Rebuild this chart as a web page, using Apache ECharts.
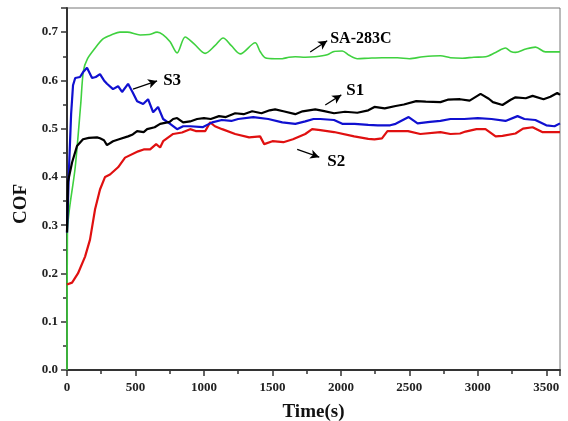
<!DOCTYPE html>
<html>
<head>
<meta charset="utf-8">
<script src="https://cdn.jsdelivr.net/npm/echarts@6/dist/echarts.min.js"></script>
<style>
  html, body { margin: 0; padding: 0; background: #fff; }
  #main { width: 568px; height: 421px; }
</style>
</head>
<body>
<div id="main"></div>
<script>
// time (s) and COF
const s1Time = [0, 7, 37, 73, 117, 160, 219, 241, 270, 292, 336, 380, 446, 480, 512, 560, 585, 640, 680, 750, 775, 804, 848, 899, 950, 1000, 1050, 1110, 1160, 1228, 1290, 1352, 1420, 1480, 1520, 1580, 1667, 1720, 1813, 1870, 1950, 2030, 2120, 2200, 2245, 2320, 2400, 2460, 2550, 2620, 2727, 2780, 2870, 2940, 3020, 3080, 3110, 3180, 3240, 3275, 3350, 3400, 3480, 3530, 3580, 3600];
const s1Cof = [0.285, 0.39, 0.43, 0.464, 0.478, 0.481, 0.482, 0.48, 0.476, 0.466, 0.474, 0.478, 0.484, 0.488, 0.495, 0.493, 0.499, 0.503, 0.51, 0.514, 0.52, 0.522, 0.513, 0.515, 0.52, 0.522, 0.52, 0.526, 0.524, 0.532, 0.53, 0.536, 0.532, 0.538, 0.54, 0.536, 0.53, 0.536, 0.54, 0.537, 0.532, 0.535, 0.533, 0.538, 0.545, 0.542, 0.547, 0.55, 0.557, 0.556, 0.555, 0.56, 0.561, 0.558, 0.572, 0.562, 0.555, 0.549, 0.56, 0.565, 0.563, 0.568, 0.561, 0.566, 0.574, 0.57];

const s2Time = [0, 37, 80, 132, 168, 205, 241, 278, 314, 373, 424, 520, 560, 607, 651, 680, 702, 775, 840, 899, 940, 1010, 1045, 1080, 1133, 1228, 1330, 1410, 1440, 1500, 1580, 1650, 1740, 1790, 1850, 1950, 2097, 2200, 2245, 2300, 2340, 2420, 2490, 2580, 2727, 2800, 2870, 2910, 2990, 3056, 3130, 3180, 3275, 3330, 3400, 3470, 3600];
const s2Cof = [0.177, 0.181, 0.2, 0.235, 0.27, 0.333, 0.374, 0.4, 0.405, 0.42, 0.44, 0.453, 0.457, 0.457, 0.468, 0.461, 0.474, 0.489, 0.492, 0.499, 0.495, 0.495, 0.513, 0.505, 0.499, 0.489, 0.482, 0.484, 0.468, 0.474, 0.472, 0.478, 0.489, 0.499, 0.497, 0.493, 0.484, 0.479, 0.478, 0.48, 0.495, 0.495, 0.495, 0.489, 0.493, 0.489, 0.49, 0.494, 0.499, 0.499, 0.484, 0.485, 0.49, 0.5, 0.503, 0.493, 0.493];

const s3Time = [0, 15, 30, 44, 60, 95, 120, 146, 183, 210, 241, 270, 292, 336, 373, 402, 446, 480, 512, 556, 592, 629, 665, 702, 753, 804, 848, 899, 990, 1060, 1130, 1200, 1250, 1360, 1470, 1572, 1667, 1740, 1800, 1850, 1950, 2010, 2100, 2200, 2270, 2360, 2400, 2495, 2560, 2650, 2727, 2800, 2900, 3000, 3100, 3202, 3290, 3340, 3420, 3500, 3560, 3600];
const s3Cof = [0.285, 0.42, 0.53, 0.59, 0.605, 0.607, 0.618, 0.626, 0.605, 0.607, 0.613, 0.6, 0.593, 0.582, 0.588, 0.576, 0.593, 0.575, 0.557, 0.551, 0.561, 0.534, 0.545, 0.52, 0.51, 0.499, 0.505, 0.505, 0.503, 0.513, 0.518, 0.516, 0.52, 0.524, 0.52, 0.513, 0.51, 0.515, 0.52, 0.52, 0.518, 0.51, 0.51, 0.508, 0.507, 0.507, 0.51, 0.524, 0.511, 0.514, 0.516, 0.52, 0.52, 0.522, 0.52, 0.516, 0.526, 0.52, 0.518, 0.507, 0.505, 0.511];

const saTime = [0, 3, 60, 100, 120, 150, 200, 263, 330, 387, 440, 534, 600, 658, 700, 753, 804, 863, 930, 1009, 1080, 1140, 1200, 1265, 1374, 1410, 1447, 1520, 1572, 1620, 1667, 1740, 1813, 1900, 1950, 2010, 2060, 2120, 2200, 2300, 2412, 2500, 2600, 2727, 2800, 2887, 2970, 3056, 3130, 3202, 3240, 3275, 3350, 3421, 3494, 3600];
const saCof = [0, 0.285, 0.42, 0.55, 0.62, 0.645, 0.665, 0.686, 0.695, 0.7, 0.7, 0.694, 0.695, 0.7, 0.695, 0.68, 0.657, 0.69, 0.675, 0.656, 0.672, 0.688, 0.672, 0.655, 0.678, 0.66, 0.647, 0.645, 0.645, 0.648, 0.649, 0.648, 0.649, 0.653, 0.66, 0.661, 0.652, 0.645, 0.646, 0.647, 0.647, 0.645, 0.649, 0.651, 0.647, 0.646, 0.648, 0.649, 0.658, 0.667, 0.66, 0.658, 0.665, 0.669, 0.659, 0.659];

// annotations: label text, arrow tail, arrow head, text anchor (in time / COF units)
const noteNames = ['S1', 'S2', 'S3', 'SA-283C'];
const noteArrowFrom = [[1886, 0.549], [1681, 0.457], [482, 0.582], [1776, 0.659]];
const noteArrowTo = [[2003, 0.57], [1842, 0.441], [658, 0.599], [1900, 0.682]];
const noteText = [[2040, 0.578], [1900, 0.432], [702, 0.6], [1922, 0.686]];

const serif = 'Liberation Serif';

function pairs(ts, vs) {
    return ts.map((t, i) => [t, vs[i]]);
}

function note(i) {
    return {
        markLine: {
            silent: true,
            symbol: ['none', 'arrow'],
            symbolSize: [7, 9],
            lineStyle: { color: '#000', width: 1.2, type: 'solid' },
            label: { show: false },
            data: [[{ coord: noteArrowFrom[i] }, { coord: noteArrowTo[i] }]]
        },
        markPoint: {
            silent: true,
            symbol: 'circle',
            symbolSize: 0,
            label: {
                show: true,
                position: 'right',
                distance: 0,
                formatter: noteNames[i],
                color: '#000',
                fontFamily: serif,
                fontWeight: 'bold',
                fontSize: noteNames[i].length > 2 ? 16 : 17
            },
            data: [{ coord: noteText[i] }]
        }
    };
}

let chart = echarts.init(document.getElementById('main'));

let option = {
    animation: false,
    backgroundColor: '#fff',
    grid: {
        left: 67, top: 8, right: 8, bottom: 51,
        outerBoundsMode: 'none',
        containLabel: false,
        show: true, borderColor: '#777', borderWidth: 1
    },
    xAxis: {
        type: 'value',
        min: 0, max: 3600, interval: 500,
        name: 'Time(s)',
        nameLocation: 'middle',
        nameGap: 33,
        nameTextStyle: { fontFamily: serif, fontWeight: 'bold', fontSize: 19, color: '#111' },
        axisLine: { show: true, lineStyle: { color: '#333', width: 2 } },
        axisTick: { show: true, length: 6, lineStyle: { color: '#333', width: 1.5 } },
        minorTick: { show: true, splitNumber: 2, length: 4, lineStyle: { color: '#333', width: 1.5 } },
        splitLine: { show: false },
        axisLabel: {
            showMaxLabel: false,
            margin: 11,
            formatter: v => String(v),
            fontFamily: serif, fontWeight: 'bold', fontSize: 13, color: '#222'
        }
    },
    yAxis: {
        type: 'value',
        min: 0, max: 0.75, interval: 0.1,
        name: 'COF',
        nameLocation: 'middle',
        nameGap: 31,
        nameRotate: 90,
        nameTextStyle: { fontFamily: serif, fontWeight: 'bold', fontSize: 19, color: '#111', padding: [0, 0, 0, -30] },
        axisLine: { show: true, lineStyle: { color: '#333', width: 2 } },
        axisTick: { show: true, length: 6, lineStyle: { color: '#333', width: 1.5 } },
        minorTick: { show: true, splitNumber: 2, length: 4, lineStyle: { color: '#333', width: 1.5 } },
        splitLine: { show: false },
        axisLabel: {
            showMaxLabel: false,
            margin: 9,
            formatter: v => v.toFixed(1),
            fontFamily: serif, fontWeight: 'bold', fontSize: 13, color: '#222'
        }
    },
    series: [
        Object.assign({
            name: 'SA-283C', type: 'line', showSymbol: false, smooth: 0.3,
            data: pairs(saTime, saCof),
            lineStyle: { color: '#3fd13f', width: 1.6 }, z: 2
        }, note(3)),
        Object.assign({
            name: 'S2', type: 'line', showSymbol: false,
            data: pairs(s2Time, s2Cof),
            lineStyle: { color: '#e01010', width: 2.2 }, z: 3
        }, note(1)),
        Object.assign({
            name: 'S3', type: 'line', showSymbol: false,
            data: pairs(s3Time, s3Cof),
            lineStyle: { color: '#1010d0', width: 2.2 }, z: 4
        }, note(2)),
        Object.assign({
            name: 'S1', type: 'line', showSymbol: false,
            data: pairs(s1Time, s1Cof),
            lineStyle: { color: '#000', width: 2.2 }, z: 5
        }, note(0))
    ]
};

chart.setOption(option);
</script>
</body>
</html>
